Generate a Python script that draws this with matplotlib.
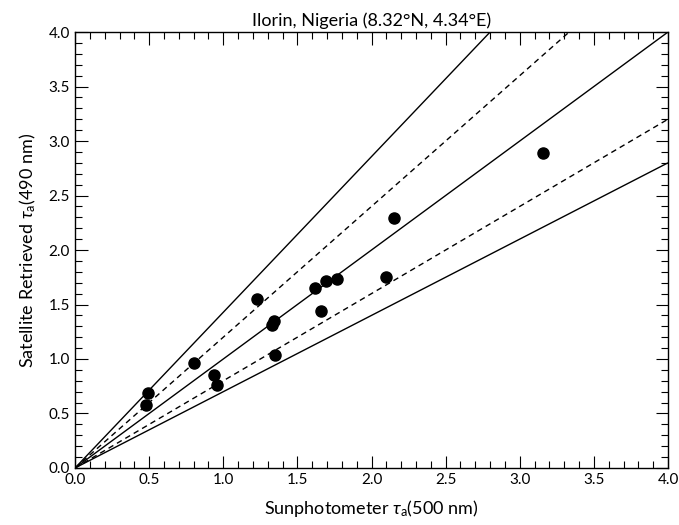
import matplotlib
matplotlib.use("Agg")
import matplotlib.pyplot as plt
import numpy as np
from matplotlib.ticker import MultipleLocator

plt.rcParams['font.family'] = ['Lato', 'DejaVu Sans']
plt.rcParams['mathtext.fontset'] = 'custom'
plt.rcParams['mathtext.rm'] = 'Lato'
plt.rcParams['mathtext.it'] = 'Lato:italic'

sun_tau = [0.49, 0.48, 0.80, 0.94, 0.96, 1.23, 1.34, 1.33, 1.35, 1.62, 1.66, 1.69, 1.77, 2.10, 2.15, 3.16]
sat_tau = [0.69, 0.58, 0.96, 0.85, 0.76, 1.55, 1.35, 1.31, 1.04, 1.65, 1.44, 1.72, 1.73, 1.75, 2.29, 2.89]

solid_slopes = [1 / 0.7, 1.0, 0.7]
dashed_slopes = [1.2, 0.8]

fig = plt.figure(figsize=(6.79, 5.25), dpi=100)
ax = fig.add_axes([0.1105, 0.1086, 0.8733, 0.8304])

xx = np.array([0.0, 4.0])
for s in solid_slopes:
    ax.plot(xx, s * xx, color='black', lw=1.0, solid_capstyle='butt')
for s in dashed_slopes:
    ax.plot(xx, s * xx, color='black', lw=1.0, ls=(0, (4, 3)))

ax.plot(sun_tau, sat_tau, 'o', color='black', markersize=8, clip_on=False)

ax.set_xlim(0, 4)
ax.set_ylim(0, 4)
ax.xaxis.set_major_locator(MultipleLocator(0.5))
ax.yaxis.set_major_locator(MultipleLocator(0.5))
ax.xaxis.set_minor_locator(MultipleLocator(0.1))
ax.yaxis.set_minor_locator(MultipleLocator(0.1))
ax.xaxis.set_major_formatter(matplotlib.ticker.FormatStrFormatter('%.1f'))
ax.yaxis.set_major_formatter(matplotlib.ticker.FormatStrFormatter('%.1f'))
ax.tick_params(which='both', direction='in', top=True, right=True, labelsize=11, width=0.8)
ax.tick_params(which='major', length=9)
ax.tick_params(which='minor', length=5)
for sp in ax.spines.values():
    sp.set_linewidth(1.0)

ax.set_xlabel(r'Sunphotometer $\tau_{\rm a}$(500 nm)', fontsize=13, labelpad=8)
ax.set_ylabel(r'Satellite Retrieved $\tau_{\rm a}$(490 nm)', fontsize=13, labelpad=8)
ax.set_title('Ilorin, Nigeria (8.32°N, 4.34°E)', fontsize=13, pad=4)

fig.savefig('out.png', dpi=100)
